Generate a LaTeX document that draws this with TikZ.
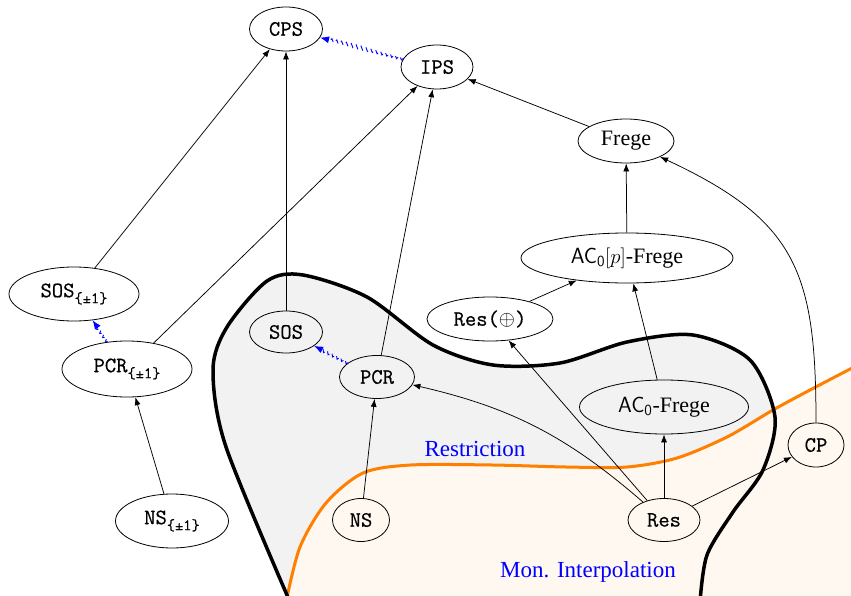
\documentclass[tikz,border=0pt]{standalone}
\usepackage{fontspec}
\setmainfont{Liberation Serif}
\newfontfamily\sysfont{Latin Modern Mono}[FakeBold=0.6]
\usetikzlibrary{arrows.meta,decorations.pathmorphing,shapes.geometric}

\definecolor{regiongray}{HTML}{F2F2F2}
\definecolor{interpfill}{HTML}{FFF8F0}
\definecolor{interpline}{HTML}{FF8000}

% subscript {±1} for the signed variants
\newcommand{\pmone}{\raisebox{-6pt}{\fontsize{16}{16}\selectfont\{±1\}}}
% AC_0 in sans serif
\newcommand{\aczero}{{\sffamily AC\textsubscript{0}}}

\begin{document}
\begin{tikzpicture}[x=1pt,y=1pt,
  sysnode/.style={draw, ellipse, line width=0.8pt, inner sep=0pt,
    font=\fontsize{22}{26}\selectfont\sysfont},
  txtnode/.style={draw, ellipse, line width=0.8pt, inner sep=0pt,
    font=\fontsize{22}{26}\selectfont},
  sim/.style={-{Latex[length=8pt,width=6pt]}, line width=0.75pt},
  weaksim/.style={blue, line width=0.9pt, dash pattern=on 5pt off 4pt,
    decorate, decoration={snake, amplitude=1.8pt, segment length=5pt, post length=7pt},
    -{Latex[length=9pt,width=7pt]}},
  regionlabel/.style={text=blue, font=\fontsize{23}{27}\selectfont}
]
\useasboundingbox (0,0) rectangle (851,-596);
\clip (0,0) rectangle (851,-596);

% regions
\fill[regiongray] plot[smooth] coordinates {(290,-602) (226,-447) (213,-370) (227,-327) (267,-281)
  (303,-275) (367,-297) (433,-345) (493,-365) (560,-363) (627,-342) (693,-335)
  (750,-360) (775,-417) (763,-470) (733,-512) (707,-555) (700,-602)} -- cycle;
\fill[interpfill] plot[smooth] coordinates {(286,-602) (300,-547) (326,-503) (363,-473) (411,-465)
  (492,-465) (566,-467) (627,-467) (677,-458) (727,-437) (773,-410) (810,-390) (856,-366)}
  -- (856,-602) -- cycle;
\draw[interpline, line width=3pt] plot[smooth] coordinates {(286,-602) (300,-547) (326,-503) (363,-473) (411,-465)
  (492,-465) (566,-467) (627,-467) (677,-458) (727,-437) (773,-410) (810,-390) (856,-366)};
\draw[line width=3.5pt] plot[smooth] coordinates {(290,-602) (226,-447) (213,-370) (227,-327) (267,-281)
  (303,-275) (367,-297) (433,-345) (493,-365) (560,-363) (627,-342) (693,-335)
  (750,-360) (775,-417) (763,-470) (733,-512) (707,-555) (700,-602)};

\node[regionlabel] (restr) at (475,-449) {Restriction};
\node[regionlabel] (interp) at (588,-572) {Mon. Interpolation};

% proof systems
\node[sysnode, minimum width=73pt, minimum height=44pt] (CPS) at (286,-29) {CPS};
\node[sysnode, minimum width=72pt, minimum height=44pt] (IPS) at (437,-67) {IPS};
\node[txtnode, minimum width=96pt, minimum height=44pt] (Frege) at (626,-141) {Frege};
\node[txtnode, minimum width=212pt, minimum height=50pt] (ACp) at (627,-258) {\aczero$[p]$-Frege};
\node[sysnode, minimum width=126pt, minimum height=44pt] (Resx) at (490,-319) {Res($\oplus$)};
\node[sysnode, minimum width=130pt, minimum height=54pt] (SOSpm) at (74,-294) {SOS\pmone};
\node[sysnode, minimum width=130pt, minimum height=56pt] (PCRpm) at (127,-369) {PCR\pmone};
\node[sysnode, minimum width=73pt, minimum height=42pt] (SOS) at (286,-332) {SOS};
\node[sysnode, minimum width=75pt, minimum height=43pt] (PCR) at (377,-377) {PCR};
\node[txtnode, minimum width=169pt, minimum height=54pt] (ACF) at (664,-407) {\aczero-Frege};
\node[sysnode, minimum width=56pt, minimum height=44pt] (CP) at (816,-445) {CP};
\node[sysnode, minimum width=72pt, minimum height=43pt] (Res) at (664,-520) {Res};
\node[sysnode, minimum width=113pt, minimum height=54pt] (NSpm) at (172,-521) {NS\pmone};
\node[sysnode, minimum width=57pt, minimum height=43pt] (NS) at (361,-520) {NS};

% simulations
\draw[sim] (SOSpm) -- (CPS);
\draw[sim] (SOS) -- (CPS);
\draw[sim] (PCRpm) -- (IPS);
\draw[sim] (PCR) -- (IPS);
\draw[sim] (Frege) -- (IPS);
\draw[sim] (ACp) -- (Frege);
\draw[sim] (Resx) -- (ACp);
\draw[sim] (ACF) -- (ACp);
\draw[sim] (NSpm) -- (PCRpm);
\draw[sim] (NS) -- (PCR);
\draw[sim] (Res) to[bend right=14] (PCR);
\draw[sim] (Res) -- (Resx);
\draw[sim] (Res) -- (ACF);
\draw[sim] (Res) -- (CP);
\draw[sim] (CP) to[out=90, in=-25, looseness=1.25] (Frege);

% weaker simulations
\draw[weaksim] (IPS) -- (CPS);
\draw[weaksim] (PCR) -- (SOS);
\draw[weaksim] (PCRpm) -- (SOSpm);
\end{tikzpicture}
\end{document}
